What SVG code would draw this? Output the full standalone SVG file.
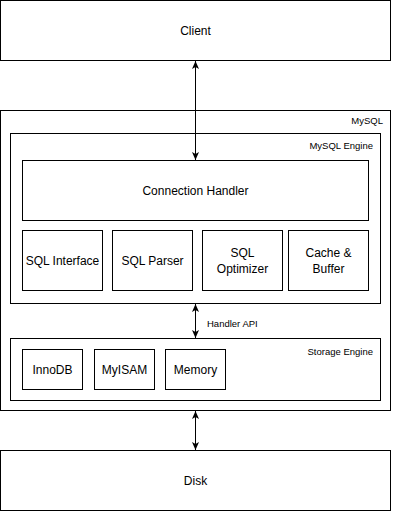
<svg xmlns="http://www.w3.org/2000/svg" width="417" height="511" viewBox="0 0 417 511">
<style>
.box{fill:#fff;stroke:#000;stroke-width:1}
.t{font-family:"Liberation Sans",Arial,sans-serif;font-size:12px;fill:#000;text-anchor:middle;dominant-baseline:central}
.s{font-family:"Liberation Sans",Arial,sans-serif;font-size:9.5px;fill:#000;text-anchor:end}
.h{font-family:"Liberation Sans",Arial,sans-serif;font-size:9.5px;fill:#000;text-anchor:start}
.c{stroke:#000;stroke-width:1;fill:none;marker-start:url(#a);marker-end:url(#a)}
</style>
<defs>
<marker id="a" viewBox="0 0 8 7" refX="8" refY="3.5" markerWidth="8" markerHeight="7" markerUnits="userSpaceOnUse" orient="auto-start-reverse">
<path d="M0,0 L8,3.5 L0,7 L2,3.5 z" fill="#000"/>
</marker>
</defs>
<rect width="417" height="511" fill="#fff"/>
<g id="client"><rect class="box" x="0.5" y="0.5" width="390" height="60"/><text class="t" x="195.5" y="30.5">Client</text></g>
<g id="mysql"><rect class="box" x="0.5" y="110.5" width="390" height="300"/><text class="s" x="383" y="124">MySQL</text></g>
<g id="mysql-engine"><rect class="box" x="10.5" y="133.5" width="370" height="170"/><text class="s" x="373" y="149">MySQL Engine</text></g>
<g id="connection-handler"><rect class="box" x="22.5" y="160.5" width="346" height="60"/><text class="t" x="195.5" y="190.5">Connection Handler</text></g>
<g id="sql-interface"><rect class="box" x="22.5" y="230.5" width="80" height="60"/><text class="t" x="62.5" y="260.5">SQL Interface</text></g>
<g id="sql-parser"><rect class="box" x="112.5" y="230.5" width="80" height="60"/><text class="t" x="152.5" y="260.5">SQL Parser</text></g>
<g id="sql-optimizer"><rect class="box" x="202.5" y="230.5" width="80" height="60"/><text class="t" x="242.5" y="252.5">SQL</text><text class="t" x="242.5" y="268.5">Optimizer</text></g>
<g id="cache-buffer"><rect class="box" x="288.5" y="230.5" width="80" height="60"/><text class="t" x="328.5" y="252.5">Cache &amp;</text><text class="t" x="328.5" y="268.5">Buffer</text></g>
<g id="storage-engine"><rect class="box" x="10.5" y="338.5" width="370" height="62"/><text class="s" x="373" y="355">Storage Engine</text></g>
<g id="innodb"><rect class="box" x="22.5" y="349.5" width="60" height="40"/><text class="t" x="52.5" y="369.5">InnoDB</text></g>
<g id="myisam"><rect class="box" x="94.5" y="349.5" width="60" height="40"/><text class="t" x="124.5" y="369.5">MyISAM</text></g>
<g id="memory"><rect class="box" x="165.5" y="349.5" width="60" height="40"/><text class="t" x="195.5" y="369.5">Memory</text></g>
<g id="disk"><rect class="box" x="0.5" y="450.5" width="390" height="60"/><text class="t" x="195.5" y="480.5">Disk</text></g>
<g id="connectors">
<line class="c" x1="195.5" y1="61" x2="195.5" y2="160"/>
<line class="c" x1="195.5" y1="304" x2="195.5" y2="338"/>
<text class="h" x="207" y="327">Handler API</text>
<line class="c" x1="195.5" y1="411" x2="195.5" y2="450"/>
</g>
</svg>
